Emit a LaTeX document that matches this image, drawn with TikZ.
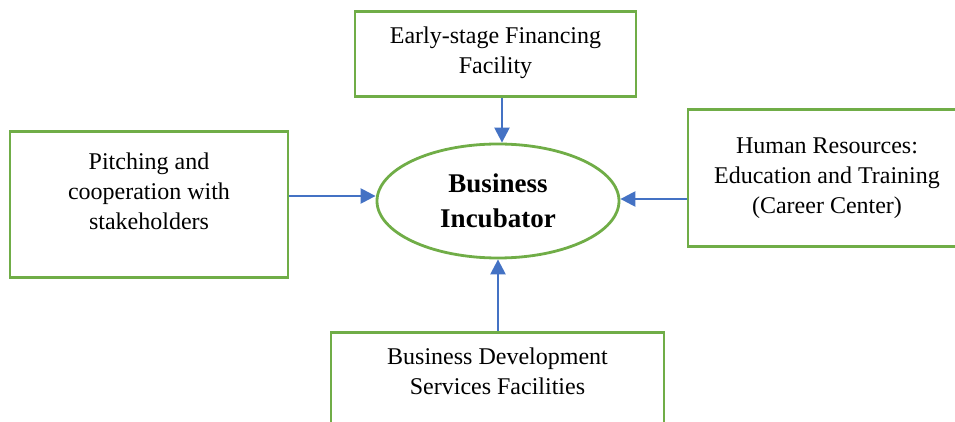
\documentclass[tikz,border=0pt]{standalone}
\usepackage{fontspec}
\setmainfont{Liberation Serif}
\usetikzlibrary{arrows.meta}
\usetikzlibrary{shapes.geometric}

\definecolor{boxgreen}{HTML}{70AD47}
\definecolor{arrowblue}{HTML}{4472C4}

\begin{document}
\begin{tikzpicture}[
    x=0.5pt, y=-0.5pt,
    box/.style={draw=boxgreen, line width=1.4pt, rectangle, align=center, inner sep=0pt, anchor=north, font=\fontsize{12}{15}\selectfont},
    hub/.style={draw=boxgreen, line width=1.4pt, ellipse, inner sep=0pt, minimum width=121pt, minimum height=57pt, align=center, font=\fontsize{13.5}{17.5}\selectfont\bfseries},
    feed/.style={draw=arrowblue, line width=1.2pt, -{Triangle[length=7.5pt, width=7.5pt]}},
    ]
    \useasboundingbox (0,0) rectangle (955,422);
    \clip (0,0) rectangle (955,422);
    \node[hub] (incubator) at (498,201) {Business\\Incubator};
    \node[box, minimum width=140.5pt, text height=31pt, text depth=11.5pt] (financing) at (495.5,10) {Early-stage Financing\\Facility};
    \node[box, minimum width=139pt, text height=49pt, text depth=24pt] (pitching) at (149,130) {Pitching and\\cooperation with\\stakeholders};
    \node[box, minimum width=139pt, text height=52pt, text depth=16.5pt] (resources) at (827,108) {Human Resources:\\Education and Training\\(Career Center)};
    \node[box, minimum width=166.5pt, text height=31pt, text depth=40pt] (services) at (497.5,331) {Business Development\\Services Facilities};
    \draw[feed] ([xshift=2pt]financing.south -| incubator.north) -- ([xshift=2pt]incubator.north);
    \draw[feed] ([yshift=2.5pt]pitching.east |- incubator.west) -- ([yshift=2.5pt]incubator.west);
    \draw[feed] ([yshift=1pt]resources.west |- incubator.east) -- ([yshift=1pt]incubator.east);
    \draw[feed] (services.north -| incubator.south) -- (incubator.south);
\end{tikzpicture}
\end{document}
